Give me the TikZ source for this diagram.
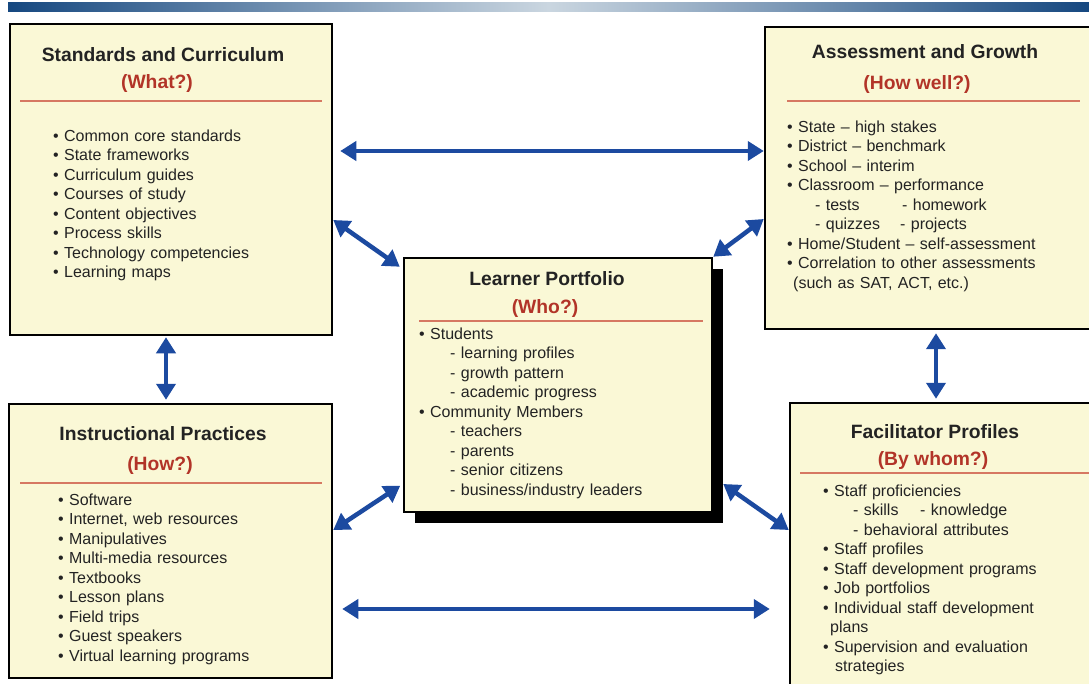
\documentclass[tikz,border=0pt]{standalone}
\usepackage{fontspec}
\setmainfont{Liberation Sans}
\usepackage{xcolor}
\usepackage{tikz}
\usetikzlibrary{arrows.meta}
\usetikzlibrary{fit}
\usetikzlibrary{shadows}
\definecolor{paper}{RGB}{250,248,214}
\definecolor{ink}{RGB}{35,35,35}
\definecolor{askred}{RGB}{178,52,40}
\definecolor{rulered}{RGB}{214,120,98}
\definecolor{linkblue}{RGB}{28,74,160}
\definecolor{bardark}{RGB}{22,72,128}
\definecolor{barlight}{RGB}{202,214,224}
\tikzset{
    panel/.style = {rectangle, draw=black, line width=2.5pt, fill=paper, inner sep=0pt},
    head/.style = {font=\fontsize{19.3}{23}\selectfont\bfseries, text=ink, text height=18pt, text depth=4pt, inner sep=0pt},
    ask/.style = {head, text=askred},
    items/.style = {anchor=north west, align=left, inner sep=0pt, text=ink, font=\fontsize{16}{19.5}\selectfont},
    sep/.style = {draw=rulered, line width=1.5pt},
    link/.style = {{Triangle[width=19pt,length=16pt]}-{Triangle[width=19pt,length=16pt]}, line width=4.5pt, draw=linkblue, fill=linkblue}
}

\begin{document}
\begin{tikzpicture}[
	x=1pt, y=-1pt
]
\useasboundingbox (0,0) rectangle (1089,684);
\shade[left color=bardark, right color=bardark, middle color=barlight] (8,3) rectangle (1089,12);
%
\node[panel, fit={(10,24) (332,335)}] (std) {};
\node[panel, fit={(765,27) (1094,329)}] (asm) {};
\node[panel, fit={(9,404) (332,678)}] (ins) {};
\node[panel, fit={(790,403) (1094,692)}] (fac) {};
\node[panel, fit={(404,258) (712,512)}, drop shadow={shadow xshift=11pt, shadow yshift=-11pt, fill=black, opacity=1}] (lrn) {};
%
\node[head] at (163,55) (stdtitle) {Standards and Curriculum};
\node[ask] at (157,82) (stdask) {(What?)};
\draw[sep] (20,101) -- (322,101);
\node[items, text width=270pt] at (53,127.5) (stdlist) {\strut\textbullet\ Common core standards\\
\textbullet\ State frameworks\\
\textbullet\ Curriculum guides\\
\textbullet\ Courses of study\\
\textbullet\ Content objectives\\
\textbullet\ Process skills\\
\textbullet\ Technology competencies\\
\textbullet\ Learning maps};
%
\node[head] at (925,52) (asmtitle) {Assessment and Growth};
\node[ask] at (917,83) (asmask) {(How well?)};
\draw[sep] (787,101) -- (1080,101);
\node[items, text width=295pt] at (787,118.5) (asmlist) {\strut\textbullet\ State -- high stakes\\
\textbullet\ District -- benchmark\\
\textbullet\ School -- interim\\
\textbullet\ Classroom -- performance\\
\hspace*{28pt}\makebox[87pt][l]{- tests}- homework\\
\hspace*{28pt}\makebox[85pt][l]{- quizzes}- projects\\
\textbullet\ Home/Student -- self-assessment\\
\textbullet\ Correlation to other assessments\\
\hspace*{6pt}(such as SAT, ACT, etc.)};
%
\node[head] at (547,279) (lrntitle) {Learner Portfolio};
\node[ask] at (545,307) (lrnask) {(Who?)};
\draw[sep] (419,321) -- (703,321);
\node[items, text width=280pt] at (419,325.5) (lrnlist) {\strut\textbullet\ Students\\
\hspace*{31pt}- learning profiles\\
\hspace*{31pt}- growth pattern\\
\hspace*{31pt}- academic progress\\
\textbullet\ Community Members\\
\hspace*{31pt}- teachers\\
\hspace*{31pt}- parents\\
\hspace*{31pt}- senior citizens\\
\hspace*{31pt}- business/industry leaders};
%
\node[head] at (163,433) (institle) {Instructional Practices};
\node[ask] at (160,463) (insask) {(How?)};
\draw[sep] (20,483) -- (322,483);
\node[items, text width=265pt] at (58,491.5) (inslist) {\strut\textbullet\ Software\\
\textbullet\ Internet, web resources\\
\textbullet\ Manipulatives\\
\textbullet\ Multi-media resources\\
\textbullet\ Textbooks\\
\textbullet\ Lesson plans\\
\textbullet\ Field trips\\
\textbullet\ Guest speakers\\
\textbullet\ Virtual learning programs};
%
\node[head] at (935,431) (factitle) {Facilitator Profiles};
\node[ask] at (933,458) (facask) {(By whom?)};
\draw[sep] (800,473) -- (1094,473);
\node[items, text width=260pt] at (823,482.5) (faclist) {\strut\textbullet\ Staff proficiencies\\
\hspace*{30pt}\makebox[67pt][l]{- skills}- knowledge\\
\hspace*{30pt}- behavioral attributes\\
\textbullet\ Staff profiles\\
\textbullet\ Staff development programs\\
\textbullet\ Job portfolios\\
\textbullet\ Individual staff development\\
\hspace*{7pt}plans\\
\textbullet\ Supervision and evaluation\\
\hspace*{12pt}strategies};
%
\draw[link, shorten <=7pt] (std.east |- 0,151) -- (asm.west |- 0,151);
\draw[link, shorten <=9pt, shorten >=19pt] (ins.east |- 0,609) -- (fac.west |- 0,609);
\draw[link] (std.east |- 0,220) -- ([shift={(-3,10)}]lrn.north west);
\draw[link] (lrn.north east) -- (asm.west |- 0,219);
\draw[link, shorten >=3pt] (ins.east |- 0,530) -- (lrn.west |- 0,484);
\draw[link] ([shift={(10,0)}]lrn.east |- 0,484) -- (fac.west |- 0,530);
\draw[link, shorten <=1pt, shorten >=3pt] (166,0 |- std.south) -- (166,0 |- ins.north);
\draw[link, shorten <=3pt, shorten >=3pt] (936,0 |- asm.south) -- (936,0 |- fac.north);
\end{tikzpicture}
\end{document}
